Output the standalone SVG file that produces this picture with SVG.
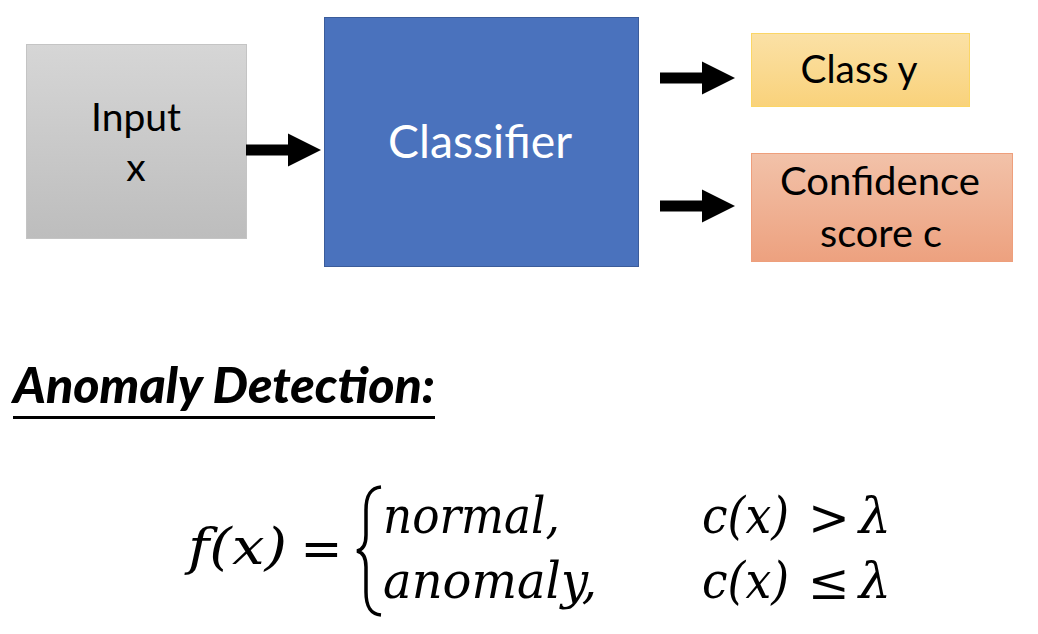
<svg xmlns="http://www.w3.org/2000/svg" width="1038" height="634" viewBox="0 0 1038 634">
<style>
.lbl{font-family:Lato,"Open Sans","Liberation Sans",sans-serif;fill:#000;text-anchor:middle}
.math{font-family:"DejaVu Serif","Liberation Serif",serif;font-size:51px;fill:#000}
.rel{font-size:50px;text-anchor:middle}
.it{font-style:italic}
.arrow{fill:#000}
</style>
<defs>
<linearGradient id="gGray" x1="0" y1="0" x2="0" y2="1"><stop offset="0" stop-color="#d6d6d6"/><stop offset="1" stop-color="#bdbdbd"/></linearGradient>
<linearGradient id="gGold" x1="0" y1="0" x2="0" y2="1"><stop offset="0" stop-color="#fbe1a6"/><stop offset="1" stop-color="#f9d27b"/></linearGradient>
<linearGradient id="gOrange" x1="0" y1="0" x2="0" y2="1"><stop offset="0" stop-color="#f2c2a9"/><stop offset="1" stop-color="#eda17f"/></linearGradient>
<path id="blockArrow" d="M0,-5.5 H42 V-16.5 L75,0 L42,16.5 V5.5 H0 Z"/>
</defs>
<rect width="1038" height="634" fill="#fff"/>

<g id="input">
<rect x="26.5" y="44.5" width="220" height="194" fill="url(#gGray)" stroke="#c4c4c4" stroke-width="1"/>
<text class="lbl" x="136" y="131" font-size="39">Input</text>
<text class="lbl" x="136" y="181" font-size="39">x</text>
</g>

<g id="classifier">
<rect x="324.5" y="17.5" width="314" height="249" fill="#4a72bd" stroke="#3b5c9a" stroke-width="1"/>
<text class="lbl" x="480" y="158" font-size="47" style="fill:#fff" textLength="184" lengthAdjust="spacingAndGlyphs">Classifier</text>
</g>

<g id="class-y">
<rect x="751.5" y="33.5" width="218" height="73" fill="url(#gGold)" stroke="#fbd666" stroke-width="1"/>
<text class="lbl" x="859" y="83" font-size="38" textLength="117" lengthAdjust="spacingAndGlyphs">Class y</text>
</g>

<g id="confidence">
<rect x="751.5" y="153.5" width="261" height="108" fill="url(#gOrange)" stroke="#ee9f7c" stroke-width="1"/>
<text class="lbl" x="880" y="195" font-size="38" textLength="200" lengthAdjust="spacingAndGlyphs">Confidence</text>
<text class="lbl" x="881" y="247" font-size="38" textLength="122" lengthAdjust="spacingAndGlyphs">score c</text>
</g>

<g id="connectors">
<use href="#blockArrow" class="arrow" x="246" y="150"/>
<use href="#blockArrow" class="arrow" x="660" y="78"/>
<use href="#blockArrow" class="arrow" x="660" y="206"/>
</g>

<g id="heading">
<text x="13" y="403" font-family="Lato,'Open Sans','Liberation Sans',sans-serif" font-size="49" font-weight="900" font-style="italic" textLength="422" lengthAdjust="spacingAndGlyphs">Anomaly Detection:</text>
<rect x="13" y="416" width="422" height="3" fill="#000"/>
</g>

<g id="formula">
<text class="math it" x="188" y="564" textLength="99" lengthAdjust="spacingAndGlyphs">f(x)</text>
<text class="math rel" x="321.5" y="566">=</text>
<path d="M381,487 C370,488 366,496 366,510 L366,535 C366,546 362,550 357,551 C362,552 366,556 366,567 L366,592 C366,606 370,614 381,615" fill="none" stroke="#000" stroke-width="3.5"/>
<text class="math it" x="383" y="533" textLength="177" lengthAdjust="spacingAndGlyphs">normal,</text>
<text class="math it" x="383" y="598" textLength="214" lengthAdjust="spacingAndGlyphs">anomaly,</text>
<text class="math it" x="702" y="533" textLength="87" lengthAdjust="spacingAndGlyphs">c(x)</text>
<text class="math rel" x="829" y="535">&gt;</text>
<text class="math it" x="875" y="533" text-anchor="middle">λ</text>
<text class="math it" x="702" y="598" textLength="87" lengthAdjust="spacingAndGlyphs">c(x)</text>
<text class="math rel" x="829" y="599">≤</text>
<text class="math it" x="875" y="598" text-anchor="middle">λ</text>
</g>
</svg>
